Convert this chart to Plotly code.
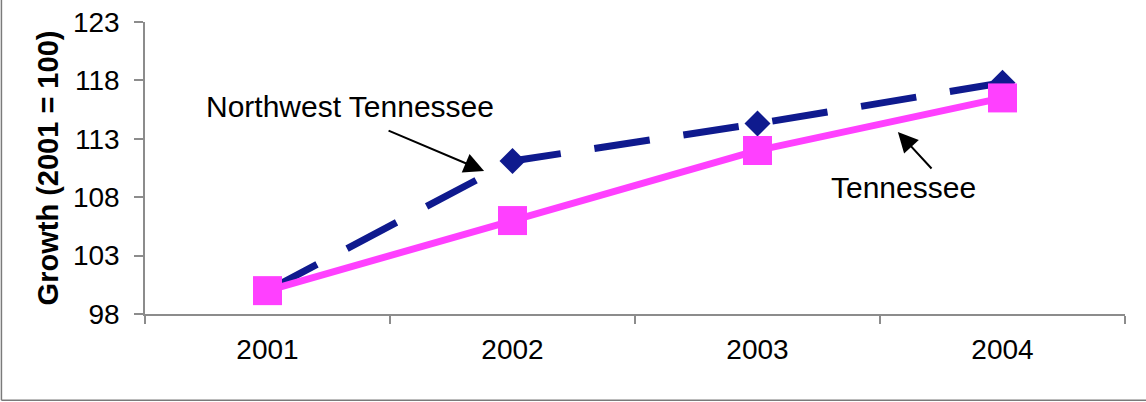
import plotly.graph_objects as go

# Growth index by year (2001 = 100)
years = ["2001", "2002", "2003", "2004"]
northwest_tn = [100, 111.1, 114.3, 117.8]
tennessee = [100, 106.0, 112.0, 116.5]
y_ticks = [98, 103, 108, 113, 118, 123]

FONT = "Liberation Sans, Arial, Helvetica, sans-serif"
NAVY = "#0f1a8e"
PINK = "#ff40ff"
AXIS = "#8c8c8c"

fig = go.Figure()

fig.add_trace(go.Scatter(
    x=years, y=northwest_tn, mode="lines+markers", name="Northwest Tennessee",
    line=dict(color=NAVY, width=7, dash="56px,34px"),
    marker=dict(symbol="diamond", size=20, color=NAVY, line=dict(width=0)),
))
fig.add_trace(go.Scatter(
    x=years, y=tennessee, mode="lines+markers", name="Tennessee",
    line=dict(color=PINK, width=7),
    marker=dict(symbol="square", size=29, color=PINK, line=dict(width=0)),
))

# Series labels with pointer arrows
fig.add_annotation(x=0.337, y=115.8, text="Northwest Tennessee", showarrow=False,
                   font=dict(family=FONT, size=30, color="black"))
fig.add_annotation(x=0.884, y=110.24, ax=0.488, ay=113.75, axref="x", ayref="y",
                   text="", showarrow=True, arrowhead=2, arrowsize=2, arrowwidth=2,
                   arrowcolor="black", standoff=0)
fig.add_annotation(x=2.594, y=108.8, text="Tennessee", showarrow=False,
                   font=dict(family=FONT, size=30, color="black"))
fig.add_annotation(x=2.573, y=113.58, ax=2.716, ay=110.33, axref="x", ayref="y",
                   text="", showarrow=True, arrowhead=2, arrowsize=2, arrowwidth=2,
                   arrowcolor="black", standoff=0)

# Outer frame (left and bottom edges)
fig.add_shape(type="line", xref="paper", yref="paper",
              x0=-0.1465, x1=-0.1465, y0=-0.295, y1=1.2,
              line=dict(color="#7a7a7a", width=1.5))
fig.add_shape(type="line", xref="paper", yref="paper",
              x0=-0.1465, x1=1.05, y0=-0.295, y1=-0.295,
              line=dict(color="#7a7a7a", width=1.5))

fig.update_layout(
    width=1146, height=402,
    margin=dict(l=145, r=21, t=22, b=88, autoexpand=False),
    paper_bgcolor="white", plot_bgcolor="white",
    showlegend=False,
    font=dict(family=FONT, color="black"),
)
fig.update_xaxes(
    type="category", range=[-0.5, 3.5], showgrid=False, zeroline=False,
    showline=True, linecolor=AXIS, linewidth=1.5, automargin=False,
    ticks="outside", ticklen=8, tickcolor=AXIS, tickwidth=1.5,
    tickson="boundaries", tickfont=dict(family=FONT, size=28, color="black"),
    ticklabelstandoff=10,
)
fig.update_yaxes(
    range=[98, 123], tickvals=y_ticks, showgrid=False, zeroline=False,
    showline=True, linecolor=AXIS, linewidth=1.5, automargin=False,
    ticks="outside", ticklen=9, tickcolor=AXIS, tickwidth=1.5,
    tickfont=dict(family=FONT, size=28, color="black"),
    ticklabelstandoff=9,
    title=dict(text="<b>Growth (2001 = 100)</b>", standoff=6,
               font=dict(family=FONT, size=29, color="black")),
)

fig.write_html("out.html")
